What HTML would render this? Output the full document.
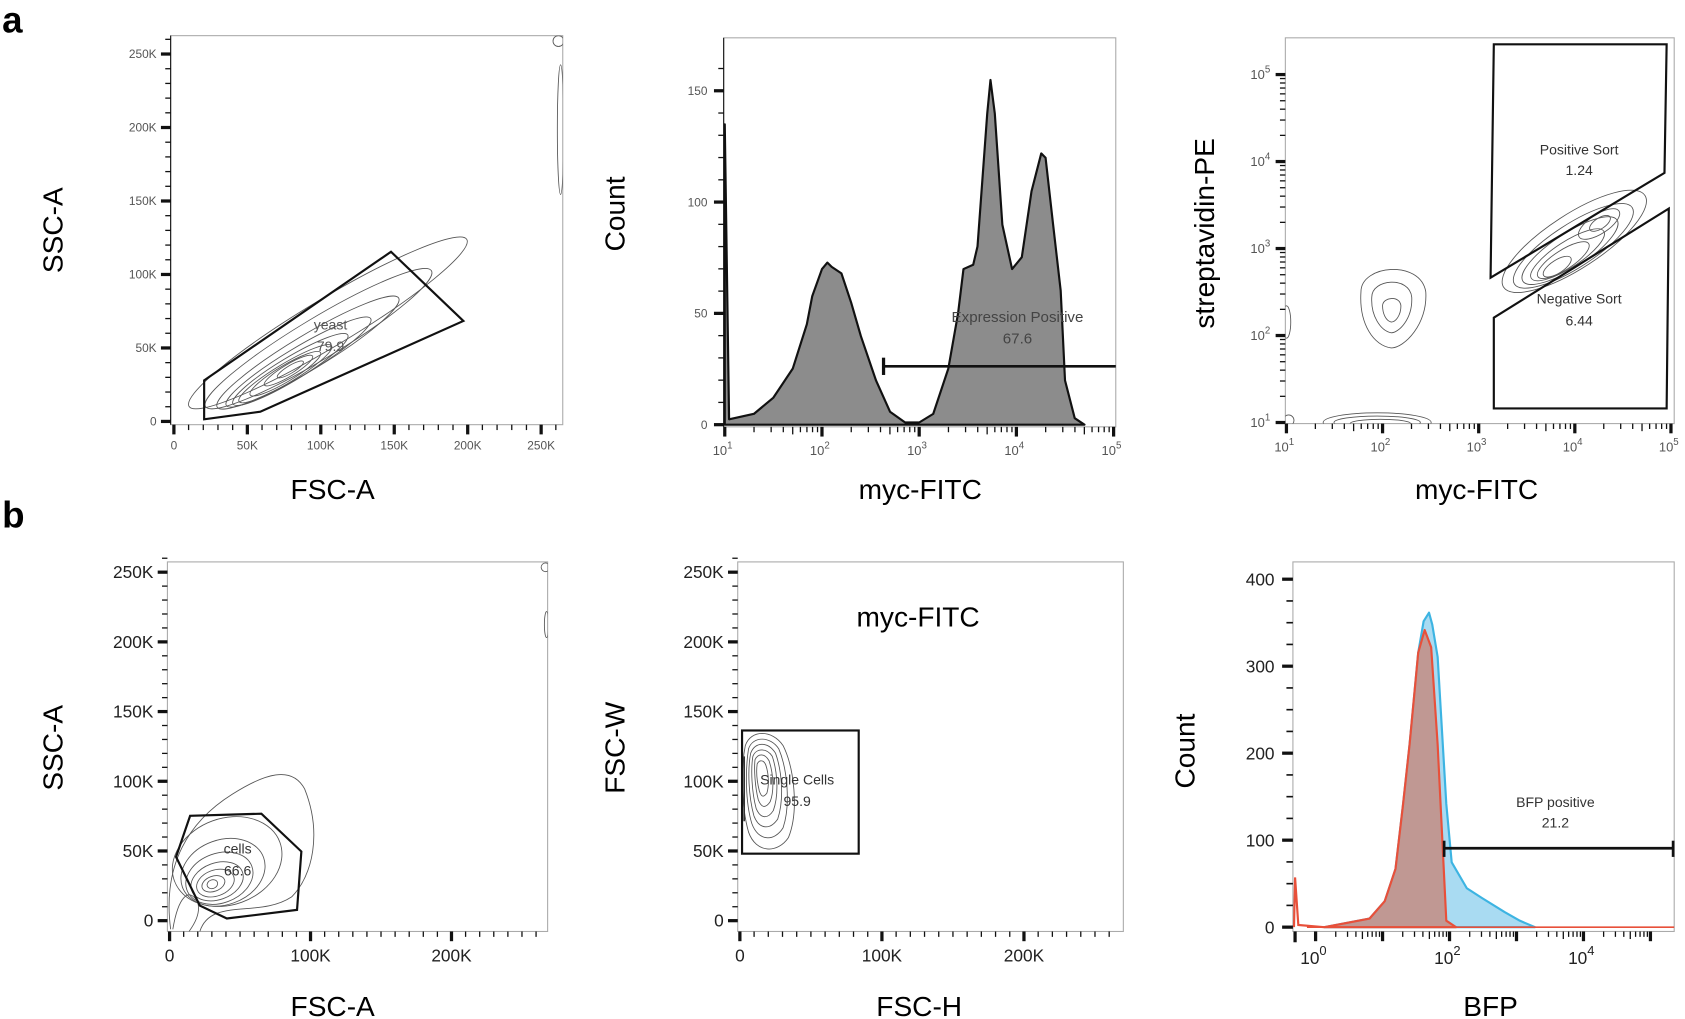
<!DOCTYPE html>
<html><head><meta charset="utf-8"><style>
html,body{margin:0;padding:0;background:#fff;}
svg{display:block;}
text{font-family:"Liberation Sans",sans-serif;}
</style></head><body>
<svg id="s" width="1685" height="1019" viewBox="0 0 1560 943" preserveAspectRatio="none" xmlns="http://www.w3.org/2000/svg">
<defs>
<clipPath id="c1"><rect x="158" y="33" width="363" height="360"/></clipPath>
<clipPath id="c3"><rect x="1190" y="35" width="360" height="357"/></clipPath>
<clipPath id="c4"><rect x="155" y="520" width="352" height="342"/></clipPath>
<clipPath id="c5"><rect x="683" y="520" width="357" height="342"/></clipPath>
</defs>
<text x="2" y="30" font-size="34" font-weight="bold">a</text>
<text x="2" y="488" font-size="34" font-weight="bold">b</text>

<!-- Panel a1 -->
<rect x="158" y="33" width="363" height="360" fill="none" stroke="#aaa" stroke-width="1"/>
<g clip-path="url(#c1)" fill="none" stroke="#555" stroke-width="0.8">
<g transform="rotate(-31 270 340)">
<ellipse cx="320" cy="322" rx="150" ry="22"/>
<ellipse cx="305" cy="330" rx="122" ry="19"/>
<ellipse cx="290" cy="336" rx="98" ry="16"/>
<ellipse cx="278" cy="339" rx="78" ry="13"/>
<ellipse cx="268" cy="341" rx="62" ry="11"/>
<ellipse cx="262" cy="342" rx="50" ry="9"/>
<ellipse cx="262" cy="342" rx="38" ry="7.5"/>
<ellipse cx="266" cy="341" rx="26" ry="5.5"/>
<ellipse cx="268" cy="341" rx="14" ry="3.5"/>
</g>
<ellipse cx="519" cy="120" rx="3" ry="60"/>
<ellipse cx="517" cy="38" rx="5" ry="5"/>
</g>
<polygon points="189,352 362,233 429,297 241,381 189,388" fill="none" stroke="#111" stroke-width="2"/>
<text x="306" y="305" font-size="13" fill="#555" text-anchor="middle">yeast</text>
<text x="306" y="325" font-size="13" fill="#555" text-anchor="middle">79.9</text>
<text transform="translate(58 213) rotate(-90)" font-size="26" text-anchor="middle">SSC-A</text>
<text x="308" y="462" font-size="26" text-anchor="middle">FSC-A</text>

<!-- Panel a2 -->
<rect x="670" y="35" width="363" height="360" fill="none" stroke="#aaa" stroke-width="1"/>
<path d="M671,393 L671,115 L675,388 L698,383 L716,368 L734,341 L747,300 L752,274 L761,249 L766,243 L770,247 L779,253 L788,280 L797,311 L811,352 L824,381 L838,391 L851,391 L864,383 L878,341 L887,290 L892,249 L901,245 L905,228 L914,105 L917,74 L921,105 L928,208 L937,249 L946,238 L955,177 L964,142 L968,146 L975,208 L982,269 L986,352 L995,387 L1004,393 Z" fill="#8c8c8c" stroke="#111" stroke-width="2" stroke-linejoin="round"/>
<line x1="818" y1="339" x2="1033" y2="339" stroke="#111" stroke-width="2.5"/>
<line x1="818" y1="331" x2="818" y2="347" stroke="#111" stroke-width="3"/>
<text x="942" y="298" font-size="14" fill="#444" text-anchor="middle">Expression Positive</text>
<text x="942" y="318" font-size="14" fill="#444" text-anchor="middle">67.6</text>
<text transform="translate(578 198) rotate(-90)" font-size="26" text-anchor="middle">Count</text>
<text x="852" y="462" font-size="26" text-anchor="middle">myc-FITC</text>

<!-- Panel a3 -->
<rect x="1190" y="35" width="360" height="357" fill="none" stroke="#aaa" stroke-width="1"/>
<g clip-path="url(#c3)" fill="none" stroke="#555" stroke-width="0.8">
<g transform="rotate(-33 1455 225)">
<ellipse cx="1458" cy="225" rx="78" ry="25"/>
<ellipse cx="1455" cy="228" rx="65" ry="20"/>
<ellipse cx="1450" cy="230" rx="52" ry="16"/>
<ellipse cx="1446" cy="232" rx="40" ry="12"/>
<ellipse cx="1440" cy="234" rx="28" ry="9"/>
<ellipse cx="1432" cy="236" rx="15" ry="6"/>
<ellipse cx="1486" cy="224" rx="22" ry="9"/>
<ellipse cx="1487" cy="224" rx="11" ry="5"/>
</g>
<path d="M1260,270 C1260,245 1315,240 1320,270 C1322,300 1300,322 1288,322 C1272,320 1258,300 1260,270 Z"/>
<path d="M1270,275 C1270,258 1305,255 1307,275 C1308,295 1295,308 1288,308 C1278,306 1269,292 1270,275 Z"/>
<path d="M1280,283 C1280,275 1296,273 1297,283 C1297,292 1292,298 1288,298 C1283,297 1280,290 1280,283 Z"/>
<ellipse cx="1275" cy="391" rx="50" ry="9"/>
<ellipse cx="1275" cy="391" rx="40" ry="6"/>
<ellipse cx="1278" cy="392" rx="28" ry="4"/>
<ellipse cx="1191" cy="298" rx="4" ry="15"/>
<ellipse cx="1193" cy="389" rx="5" ry="5"/>
</g>
<polygon points="1383,41 1543,41 1541,160 1380,257" fill="none" stroke="#111" stroke-width="2"/>
<polygon points="1383,294 1545,193 1543,378 1383,378" fill="none" stroke="#111" stroke-width="2"/>
<text x="1462" y="143" font-size="13" fill="#333" text-anchor="middle">Positive Sort</text>
<text x="1462" y="162" font-size="13" fill="#333" text-anchor="middle">1.24</text>
<text x="1462" y="281" font-size="13" fill="#333" text-anchor="middle">Negative Sort</text>
<text x="1462" y="301" font-size="13" fill="#333" text-anchor="middle">6.44</text>
<text transform="translate(1124 216) rotate(-90)" font-size="26" text-anchor="middle">streptavidin-PE</text>
<text x="1367" y="462" font-size="26" text-anchor="middle">myc-FITC</text>

<!-- Panel b1 -->
<rect x="155" y="520" width="352" height="342" fill="none" stroke="#aaa" stroke-width="1"/>
<g clip-path="url(#c4)" fill="none" stroke="#555" stroke-width="0.8">
<path d="M158,860 C150,800 175,760 215,735 C245,716 270,708 282,730 C298,770 290,810 270,830 C240,850 195,830 185,862"/>
<g transform="rotate(-20 205 812)">
<ellipse cx="215" cy="800" rx="52" ry="40"/>
<ellipse cx="208" cy="808" rx="40" ry="30"/>
<ellipse cx="203" cy="812" rx="32" ry="23"/>
<ellipse cx="200" cy="814" rx="25" ry="17"/>
<ellipse cx="198" cy="815" rx="18" ry="12"/>
<ellipse cx="196" cy="815" rx="11" ry="7"/>
<ellipse cx="195" cy="815" rx="5" ry="4"/>
</g>
<path d="M160,860 C165,830 175,820 183,835 C186,845 180,855 175,862"/>
<ellipse cx="505" cy="525" rx="4" ry="4"/>
<ellipse cx="506" cy="578" rx="2" ry="12"/>
</g>
<polygon points="163,793 176,755 242,753 279,788 275,842 210,850 185,838" fill="none" stroke="#111" stroke-width="2"/>
<text x="220" y="790" font-size="13" fill="#333" text-anchor="middle">cells</text>
<text x="220" y="810" font-size="13" fill="#333" text-anchor="middle">66.6</text>
<text transform="translate(58 692) rotate(-90)" font-size="26" text-anchor="middle">SSC-A</text>
<text x="308" y="940" font-size="26" text-anchor="middle">FSC-A</text>

<!-- Panel b2 -->
<rect x="683" y="520" width="357" height="342" fill="none" stroke="#aaa" stroke-width="1"/>
<g clip-path="url(#c5)" fill="none" stroke="#555" stroke-width="0.8">
<path d="M690,690 C695,675 715,675 725,690 C735,710 740,750 730,775 C720,790 700,790 693,770 C686,745 686,710 690,690 Z"/>
<path d="M693,693 C697,681 713,681 721,693 C729,712 732,745 725,766 C717,779 702,779 696,762 C690,742 690,712 693,693 Z"/>
<path d="M695,697 C699,686 711,686 718,697 C724,714 726,740 720,758 C713,768 703,768 698,755 C693,737 692,712 695,697 Z"/>
<path d="M697,700 C700,692 710,692 715,700 C720,715 721,736 716,750 C711,758 704,758 700,748 C696,733 695,712 697,700 Z"/>
<path d="M699,703 C702,697 708,697 712,704 C716,716 717,732 713,742 C709,748 705,748 702,740 C699,728 698,712 699,703 Z"/>
<path d="M701,707 C703,703 707,703 709,708 C712,717 712,727 710,734 C707,738 705,738 703,732 C701,724 700,714 701,707 Z"/>
<line x1="689" y1="700" x2="689" y2="760" stroke="#333" stroke-width="1.5"/>
</g>
<rect x="687" y="676" width="108" height="114" fill="none" stroke="#111" stroke-width="2"/>
<text x="738" y="726" font-size="13" fill="#333" text-anchor="middle">Single Cells</text>
<text x="738" y="746" font-size="13" fill="#333" text-anchor="middle">95.9</text>
<text x="850" y="580" font-size="26" text-anchor="middle">myc-FITC</text>
<text transform="translate(578 692) rotate(-90)" font-size="26" text-anchor="middle">FSC-W</text>
<text x="851" y="940" font-size="26" text-anchor="middle">FSC-H</text>

<!-- Panel b3 -->
<rect x="1197" y="520" width="353" height="342" fill="none" stroke="#aaa" stroke-width="1"/>
<path d="M1226,858 L1268,850 L1282,834 L1292,804 L1299,744 L1305,689 L1313,604 L1318,575 L1323,567 L1326,578 L1331,608 L1339,744 L1344,798 L1358,822 L1372,831 L1393,844 L1407,852 L1421,858 Z" fill="#a9dbf2" stroke="#3db4e2" stroke-width="2" stroke-linejoin="round"/>
<path d="M1226,858 L1268,850 L1282,834 L1292,804 L1299,744 L1305,689 L1313,604 L1319,583 L1325,599 L1331,689 L1339,852 L1348,858 Z" fill="rgba(200,130,115,0.75)" stroke="#e8503a" stroke-width="2" stroke-linejoin="round"/>
<path d="M1198,858 L1199,812 L1202,856 L1226,858" fill="none" stroke="#e8503a" stroke-width="2"/>
<line x1="1210" y1="858" x2="1550" y2="858" stroke="#e8503a" stroke-width="1.5"/>
<line x1="1337" y1="785" x2="1549" y2="785" stroke="#111" stroke-width="2.5"/>
<line x1="1337" y1="778" x2="1337" y2="793" stroke="#111" stroke-width="2.5"/>
<line x1="1549" y1="778" x2="1549" y2="793" stroke="#111" stroke-width="2.5"/>
<text x="1440" y="747" font-size="13" fill="#333" text-anchor="middle">BFP positive</text>
<text x="1440" y="766" font-size="13" fill="#333" text-anchor="middle">21.2</text>
<text transform="translate(1106 695) rotate(-90)" font-size="26" text-anchor="middle">Count</text>
<text x="1380" y="940" font-size="26" text-anchor="middle">BFP</text>

<g id="ticks"></g>
</svg>
<script>
var g=document.getElementById('ticks'),out='';
function L(x1,y1,x2,y2,w){out+='<line x1="'+x1+'" y1="'+y1+'" x2="'+x2+'" y2="'+y2+'" stroke="#111" stroke-width="'+w+'"/>';}
function T(x,y,s,fs,anc,col){out+='<text x="'+x+'" y="'+y+'" font-size="'+fs+'" text-anchor="'+anc+'" fill="'+col+'">'+s+'</text>';}
function linY(ax,y0,per10k,labs,fs,col,maxk){ // y0 = pixel of 0
  for(var k=0;k<=maxk;k+=10){var y=y0-k/10*per10k;if(k%50==0){L(ax-9,y,ax,y,3);T(ax-13,y+fs*0.35,labs[k/50],fs,'end',col);}else L(ax-5,y,ax,y,1.2);}
}
function linX(ay,x0,per10k,labs,fs,col,maxk,step){
  for(var k=0;k<=maxk;k+=10){var x=x0+k/10*per10k;if(k%step==0){L(x,ay,x,ay+9,3);if(labs[k/step]!==undefined)T(x,ay+fs+12,labs[k/step],fs,'middle',col);}else L(x,ay,x,ay+5,1.2);}
}
var lk=['0','50K','100K','150K','200K','250K'];
// a1
L(158,33,158,393,1);
linY(158,390,13.6,lk,11,'#555',260);
linX(393,161,13.6,lk,11,'#555',260,50);
// b1
linY(155,852,12.9,lk,16,'#222',260);
linX(862,157,13.05,['0','100K','200K'],16,'#222',260,100);
// b2
linY(683,852,12.9,lk,16,'#222',260);
linX(862,685,13.15,['0','100K','200K'],16,'#222',260,100);
// log axes
function logX(ay,x0,dec,d0,d1,fs,col,labEvery,lastx){
  for(var d=d0;d<=d1;d++){var x=x0+(d-d0)*dec;
    if(x<=lastx+1){L(x,ay,x,ay+9,3);
    if((d-d0)%labEvery==0){out+='<text x="'+(x-2)+'" y="'+(ay+fs+14)+'" font-size="'+fs+'" text-anchor="middle" fill="'+col+'">10<tspan dy="-'+(fs*0.5)+'" font-size="'+(fs*0.75)+'">'+d+'</tspan></text>';}}
    if(d<d1)for(var m=2;m<10;m++){var xm=x+Math.log10(m)*dec;if(xm<=lastx)L(xm,ay,xm,ay+(m==5?7:5),1.2);}
  }
}
function logY(ax,y0,dec,d0,d1,fs,col){
  for(var d=d0;d<=d1;d++){var y=y0-(d-d0)*dec;L(ax-9,y,ax,y,3);
    out+='<text x="'+(ax-14)+'" y="'+(y+4)+'" font-size="'+fs+'" text-anchor="end" fill="'+col+'">10<tspan dy="-'+(fs*0.5)+'" font-size="'+(fs*0.75)+'">'+d+'</tspan></text>';
    if(d<d1)for(var m=2;m<10;m++){var ym=y-Math.log10(m)*dec;L(ax-5,ym,ax,ym,1.2);}
  }
}
// a2
L(670,35,670,395,1);
for(var c=0;c<=165;c+=10){var y=393-c*2.06;if(c%50==0){L(661,y,670,y,3);T(655,y+4,c,11,'end','#555');}else L(665,y,670,y,1.2);}
logX(395,671,90,1,5,12,'#555',1,1033);
// a3
logY(1190,391,80.5,1,5,12,'#555');
logX(392,1191,89,1,5,12,'#555',1,1550);
// b3
for(var c=0;c<=400;c+=25){var y=858-c*0.805;if(c%100==0){L(1187,y,1197,y,3);T(1180,y+6,c,16,'end','#222');}else L(1191,y,1197,y,1.5);}
L(1199,862,1199,872,3);
logX(862,1218,62,0,5,16,'#222',2,1545);
g.innerHTML=out;
</script>
</body></html>
